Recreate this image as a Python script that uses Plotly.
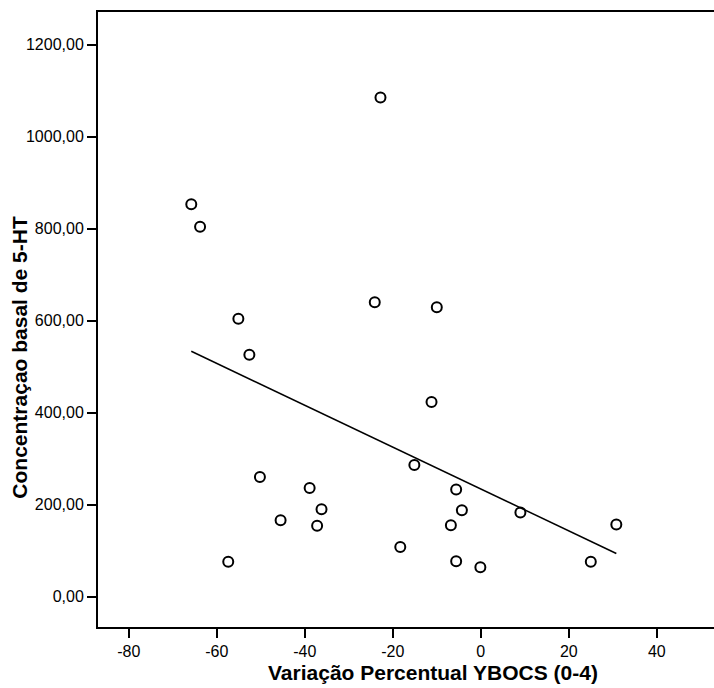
import numpy as np
import plotly.graph_objects as go

# Data
variacao_ybocs = [-65.8, -63.8, -55.1, -52.6, -50.2, -45.5, -38.9, -36.2, -37.2, -57.4,
                  -22.8, -24.1, -10.0, -11.2, -15.1, -5.6, -4.3, -6.8, -18.3, -5.6,
                  -0.1, 9.0, 30.8, 25.0]
concentracao_5ht = [853, 804, 604, 526, 260, 166, 236, 190, 154, 76,
                    1085, 640, 629, 423, 286, 233, 188, 155, 108, 77,
                    64, 183, 157, 76]

x_ticks = [-80, -60, -40, -20, 0, 20, 40]
x_tick_labels = ["-80", "-60", "-40", "-20", "0", "20", "40"]
y_ticks = [0, 200, 400, 600, 800, 1000, 1200]
y_tick_labels = ["0,00", "200,00", "400,00", "600,00", "800,00", "1000,00", "1200,00"]

x_title = "Variação Percentual YBOCS (0-4)"
y_title = "Concentraçao basal de 5-HT"

# Linear fit (least squares) computed from the data
xa = np.array(variacao_ybocs)
ya = np.array(concentracao_5ht)
slope, intercept = np.polyfit(xa, ya, 1)
fit_x = np.array([xa.min(), xa.max()])
fit_y = slope * fit_x + intercept

FONT = "Arial, Liberation Sans, sans-serif"

fig = go.Figure()
fig.add_trace(go.Scatter(
    x=variacao_ybocs, y=concentracao_5ht, mode="markers",
    marker=dict(symbol="circle-open", size=10, color="black",
                line=dict(width=2, color="black")),
    showlegend=False, hoverinfo="x+y"))
fig.add_trace(go.Scatter(
    x=fit_x, y=fit_y, mode="lines",
    line=dict(color="black", width=1.5),
    showlegend=False, hoverinfo="skip"))

fig.update_layout(
    width=714, height=688,
    margin=dict(l=98, r=0, t=12, b=61),
    paper_bgcolor="white", plot_bgcolor="white",
    font=dict(family=FONT, color="black"),
    xaxis=dict(range=[-87, 53], tickvals=x_ticks, ticktext=x_tick_labels,
               showgrid=False, zeroline=False,
               showline=True, linecolor="black", linewidth=2, mirror=True,
               ticks="outside", ticklen=9, tickwidth=2, tickcolor="black",
               tickfont=dict(size=16, family=FONT, color="black")),
    yaxis=dict(range=[-66, 1271], tickvals=y_ticks, ticktext=y_tick_labels,
               showgrid=False, zeroline=False,
               showline=True, linecolor="black", linewidth=2,
               ticks="outside", ticklen=9, tickwidth=2, tickcolor="black",
               tickfont=dict(size=16, family=FONT, color="black")),
    annotations=[
        dict(text="<b>" + x_title + "</b>", xref="paper", yref="paper",
             x=0.5446, y=-0.0732, xanchor="center", yanchor="middle",
             showarrow=False, font=dict(size=21, family=FONT, color="black")),
        dict(text="<b>" + y_title + "</b>", xref="paper", yref="paper",
             x=-0.1266, y=0.438, xanchor="center", yanchor="middle",
             textangle=-90, showarrow=False,
             font=dict(size=21, family=FONT, color="black")),
    ],
)

fig.write_html("out.html", config={"displayModeBar": False},
               post_script="document.body.style.margin='0';")
